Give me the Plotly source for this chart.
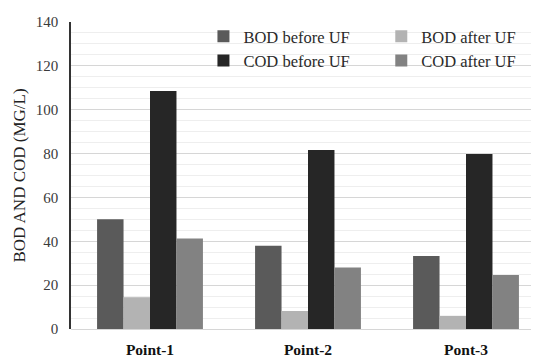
import plotly.graph_objects as go

categories = ["Point-1", "Point-2", "Pont-3"]
bod_before = [50, 38, 33.3]
bod_after = [14.5, 8.2, 6]
cod_before = [108.5, 81.6, 79.8]
cod_after = [41.3, 28.1, 24.6]
y_ticks = [0, 20, 40, 60, 80, 100, 120, 140]

series = [
    ("BOD before UF", bod_before, "#5a5a5a", "legend"),
    ("BOD after UF", bod_after, "#b3b3b3", "legend2"),
    ("COD before UF", cod_before, "#262626", "legend"),
    ("COD after UF", cod_after, "#828282", "legend2"),
]

fig = go.Figure()
for name, vals, color, lg in series:
    fig.add_trace(go.Bar(x=categories, y=vals, name=name, marker_color=color,
                         marker_line_width=0, legend=lg))

serif = "'Liberation Serif', 'Times New Roman', serif"
# page body has an 8px margin, so the figure is drawn at (8, 8)
fig.update_layout(
    width=531, height=350,
    margin=dict(l=63, r=0, t=14, b=21),
    paper_bgcolor="white", plot_bgcolor="white",
    font=dict(family=serif, size=15, color="#333333"),
    barmode="group", bargap=0.33, bargroupgap=0,
    showlegend=True,
    legend=dict(x=0.283, y=1.01, xanchor="left", yanchor="top", orientation="v",
                font=dict(family=serif, size=16.5, color="#2a2a2a"),
                bgcolor="rgba(255,255,255,0)", itemwidth=30, tracegroupgap=0),
    legend2=dict(x=0.663, y=1.01, xanchor="left", yanchor="top", orientation="v",
                 font=dict(family=serif, size=16.5, color="#2a2a2a"),
                 bgcolor="rgba(255,255,255,0)", itemwidth=30, tracegroupgap=0),
)
fig.update_xaxes(
    range=[-0.5, 2.462], showline=False, showgrid=False,
    tickfont=dict(family=serif, size=15.5, color="#111111", weight="bold"),
    ticks="outside", ticklen=6, tickcolor="rgba(0,0,0,0)",
)
fig.update_yaxes(
    range=[0, 140], tickvals=y_ticks, showline=True, linecolor="#333333", linewidth=1.5,
    gridcolor="#d6d6d6", gridwidth=1,
    minor=dict(dtick=5, showgrid=True, gridcolor="#eeeeee", gridwidth=1),
    zeroline=True, zerolinecolor="#d6d6d6", zerolinewidth=1,
    ticks="outside", ticklen=8, tickcolor="rgba(0,0,0,0)",
    tickfont=dict(family=serif, size=15, color="#3a3a3a"),
    title=dict(text="BOD AND COD (MG/L)", font=dict(family=serif, size=17, color="#222222"), standoff=6),
)
fig.write_html("out.html")
